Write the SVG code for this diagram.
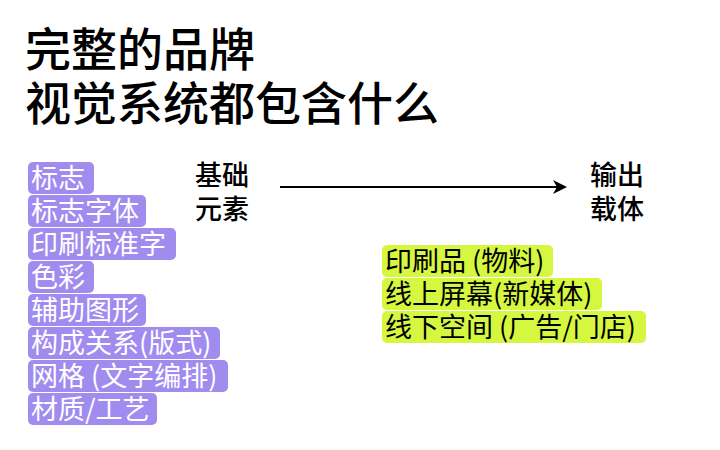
<svg xmlns="http://www.w3.org/2000/svg" width="720" height="450" viewBox="0 0 720 450">
<style>
text{font-family:"Noto Sans CJK SC","Noto Sans",sans-serif}
.t{font-size:46px;fill:#000;font-weight:500}
.h{font-size:27px;fill:#000;font-weight:500}
.p{fill:#a08cef}
.g{fill:#d6f73f}
.pt{font-size:27px;fill:#fff}
.gt{font-size:27px;fill:#000}
</style>
<defs><marker id="a" markerWidth="14" markerHeight="14" refX="12" refY="7" orient="auto" markerUnits="userSpaceOnUse"><path d="M0,0 L14,7 L0,14 L4,7 Z" fill="#000"/></marker></defs>
<rect width="720" height="450" fill="#fff"/>
<g id="title"><text class="t" x="25" y="66">完整的品牌</text><text class="t" x="25" y="120">视觉系统都包含什么</text></g>
<g id="connectors"><line x1="280" y1="187" x2="565" y2="187" stroke="#000" stroke-width="2" marker-end="url(#a)"/></g>
<g id="basic"><text class="h" x="195" y="185">基础</text><text class="h" x="195" y="219">元素</text></g>
<g id="output"><text class="h" x="590" y="185">输出</text><text class="h" x="590" y="219">载体</text></g>
<g id="elements">
<rect class="p" x="28" y="162" width="66" height="32" rx="5"/><text class="pt" x="31" y="188">标志</text>
<rect class="p" x="28" y="195" width="118" height="32" rx="5"/><text class="pt" x="31" y="221">标志字体</text>
<rect class="p" x="28" y="228" width="148" height="32" rx="5"/><text class="pt" x="31" y="254">印刷标准字</text>
<rect class="p" x="28" y="261" width="66" height="32" rx="5"/><text class="pt" x="31" y="287">色彩</text>
<rect class="p" x="28" y="294" width="118" height="32" rx="5"/><text class="pt" x="31" y="320">辅助图形</text>
<rect class="p" x="28" y="327" width="192" height="32" rx="5"/><text class="pt" x="31" y="353">构成关系(版式)</text>
<rect class="p" x="28" y="360" width="200" height="32" rx="5"/><text class="pt" x="31" y="386">网格 (文字编排)</text>
<rect class="p" x="28" y="393" width="129" height="32" rx="5"/><text class="pt" x="31" y="419">材质/工艺</text>
</g>
<g id="carriers">
<rect class="g" x="382" y="245" width="171" height="32" rx="5"/><text class="gt" x="385" y="271">印刷品 (物料)</text>
<rect class="g" x="382" y="278" width="220" height="32" rx="5"/><text class="gt" x="385" y="304">线上屏幕(新媒体)</text>
<rect class="g" x="382" y="311" width="264" height="32" rx="5"/><text class="gt" x="385" y="337">线下空间 (广告/门店)</text>
</g>
</svg>
